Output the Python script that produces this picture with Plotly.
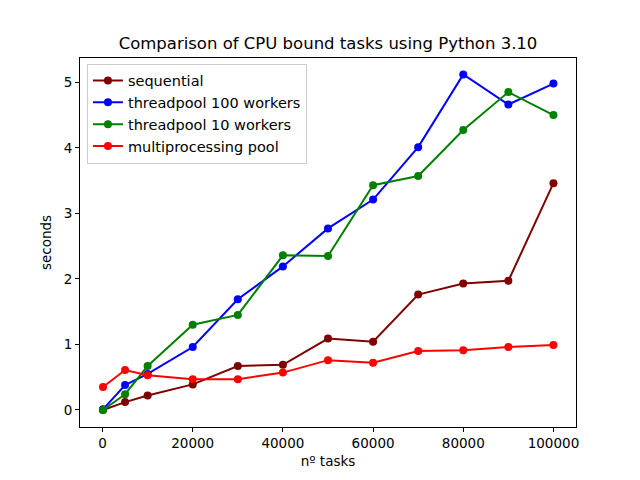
import plotly.graph_objects as go

tasks = [100, 5000, 10000, 20000, 30000, 40000, 50000, 60000, 70000, 80000, 90000, 100000]
sequential = [0.0, 0.12, 0.22, 0.39, 0.67, 0.69, 1.09, 1.04, 1.76, 1.93, 1.97, 3.46]
threadpool_100 = [0.01, 0.38, 0.55, 0.96, 1.69, 2.19, 2.77, 3.21, 4.01, 5.12, 4.66, 4.98]
threadpool_10 = [0.0, 0.24, 0.67, 1.30, 1.45, 2.36, 2.35, 3.43, 3.57, 4.27, 4.85, 4.50]
multiprocessing = [0.35, 0.61, 0.53, 0.47, 0.47, 0.57, 0.76, 0.72, 0.90, 0.91, 0.96, 0.99]

series = [
    ("sequential", sequential, "#800000"),
    ("threadpool 100 workers", threadpool_100, "#0000ff"),
    ("threadpool 10 workers", threadpool_10, "#008000"),
    ("multiprocessing pool", multiprocessing, "#ff0000"),
]

fig = go.Figure()
for name, vals, color in series:
    fig.add_trace(go.Scatter(
        x=tasks, y=vals, name=name, mode="lines+markers",
        line=dict(color=color, width=2),
        marker=dict(color=color, size=8),
    ))

axis_common = dict(
    showline=True, linecolor="black", linewidth=1, mirror=True,
    ticks="outside", ticklen=4, tickcolor="black", showgrid=False,
    zeroline=False, tickfont=dict(size=13.5, color="black"),
)

fig.update_layout(
    width=640, height=480,
    margin=dict(l=80, r=64, t=58, b=53),
    paper_bgcolor="white", plot_bgcolor="white",
    font=dict(family="DejaVu Sans", size=13.5, color="black"),
    title=dict(text="Comparison of CPU bound tasks using Python 3.10",
               x=0.5, xref="paper", xanchor="center", y=1 - 43 / 480, yanchor="middle",
               font=dict(size=16.5)),
    xaxis=dict(range=[-5000, 105000], tickvals=[0, 20000, 40000, 60000, 80000, 100000],
               ticktext=["0", "20000", "40000", "60000", "80000", "100000"],
               title=dict(text="nº tasks", standoff=6, font=dict(size=13.5)), **axis_common),
    yaxis=dict(range=[-0.26, 5.37], tickvals=[0, 1, 2, 3, 4, 5],
               title=dict(text="seconds", standoff=8, font=dict(size=13.5)), **axis_common),
    legend=dict(x=0.014, y=0.985, xanchor="left", yanchor="top",
                bgcolor="rgba(255,255,255,0.8)", bordercolor="#cccccc", borderwidth=1,
                font=dict(size=14.5), tracegroupgap=0, itemwidth=30),
    showlegend=True,
)

fig.write_html("out.html")
